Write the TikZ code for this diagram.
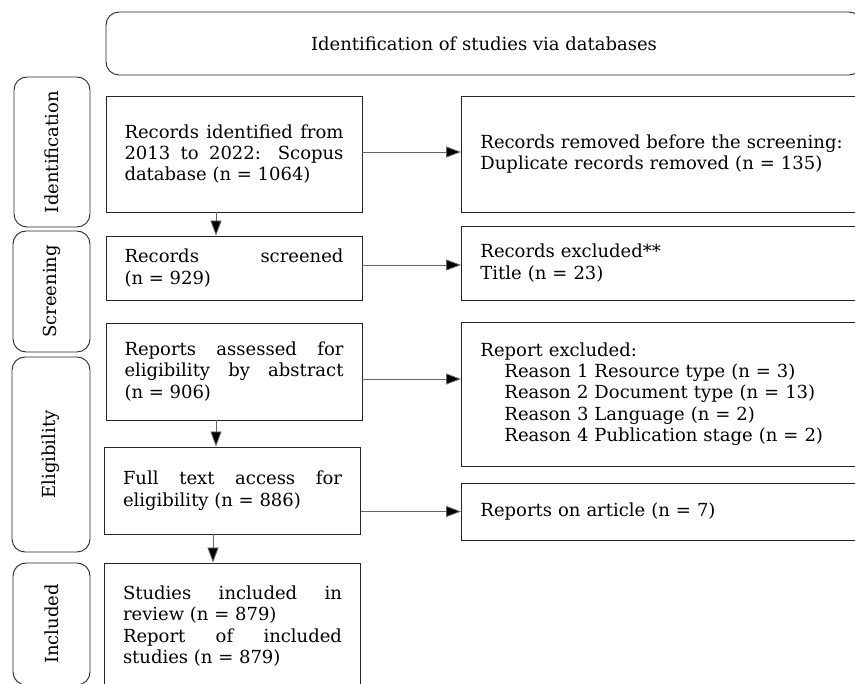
\documentclass[tikz,border=0pt]{standalone}
\usepackage{fontspec}
\setmainfont{DejaVu Serif}
\usetikzlibrary{arrows.meta, positioning}
\newcommand{\flowfont}{\fontsize{18}{21.4}\selectfont\hyphenpenalty=10000\exhyphenpenalty=10000}

\begin{document}
\begin{tikzpicture}[x=1pt, y=-1pt, font=\flowfont,
    box/.style={draw=black!85, line width=0.9pt, text width=219pt, inner xsep=18.5pt, align=justify},
    side/.style={draw=black!85, line width=0.9pt, text width=400pt, inner xsep=19pt, align=left, anchor=west},
    phase/.style={draw=black!85, line width=0.9pt, rounded corners=13pt},
    arr/.style={draw=black!60, line width=0.8pt, -{Triangle[length=15pt, width=11pt, fill=black]}}]

    \useasboundingbox (0,0) rectangle (855,684);
    \clip (0,0) rectangle (855,684);

    % header
    \node[phase, minimum width=756pt, minimum height=63pt] (head) at (484,43.5) {Identification of studies via databases};

    % stages
    \node[phase, rotate=90, minimum width=150pt, minimum height=76pt] (idf) at (52,152) {Identification};
    \node[phase, rotate=90, minimum width=121pt, minimum height=77pt] (scr) at (51.5,291.5) {Screening};
    \node[phase, rotate=90, minimum width=195pt, minimum height=78pt] (elig) at (51,454.5) {Eligibility};
    \node[phase, rotate=90, minimum width=122pt, minimum height=77pt] (inc) at (51.5,624) {Included};

    % main flow
    \node[box, minimum height=116pt] (recs) at (234,154) {Records identified from 2013 to 2022: Scopus database (n~=~1064)};
    \node[box, minimum height=64pt] (screen) at (234,268) {Records screened (n~=~929)};
    \node[box, minimum height=97pt] (assess) at (234,371.5) {Reports assessed for eligibility by abstract (n~=~906)};
    \node[box, minimum height=87pt] (full) at (232.5,490.5) {Full text access for eligibility (n~=~886)};
    \node[box, minimum height=126pt] (incl) at (232.5,626) {Studies included in review (n~=~879)\\ Report of included studies (n~=~879)};

    % exclusions
    \node[side, minimum height=116pt] (removed) at (461,154) {Records removed before the screening:\\ Duplicate records removed (n = 135)};
    \node[side, minimum height=74pt] (excl) at (461,263) {Records excluded**\\ Title (n = 23)};
    \node[side, minimum height=144pt] (reasons) at (461,394) {Report excluded:\\
        \hspace*{24pt}Reason 1 Resource type (n = 3)\\
        \hspace*{24pt}Reason 2 Document type (n = 13)\\
        \hspace*{24pt}Reason 3 Language (n = 2)\\
        \hspace*{24pt}Reason 4 Publication stage (n = 2)};
    \node[side, minimum height=57pt] (article) at (461,511.5) {Reports on article (n = 7)};

    % arrows
    \draw[arr] ([xshift=-18pt]recs.south) -- ([xshift=-18pt]recs.south |- screen.north);
    \draw[arr] ([xshift=-18pt]assess.south) -- ([xshift=-18pt]assess.south |- full.north);
    \draw[arr] ([xshift=-19.5pt]full.south) -- ([xshift=-19.5pt]full.south |- incl.north);
    \draw[arr] ([yshift=2pt]recs.east) -- ([yshift=2pt]recs.east -| removed.west);
    \draw[arr] ([yshift=3pt]screen.east) -- ([yshift=3pt]screen.east -| excl.west);
    \draw[arr] ([yshift=-7.5pt]assess.east) -- ([yshift=-7.5pt]assess.east -| reasons.west);
    \draw[arr] (article.west -| full.east) -- (article.west);
\end{tikzpicture}
\end{document}
